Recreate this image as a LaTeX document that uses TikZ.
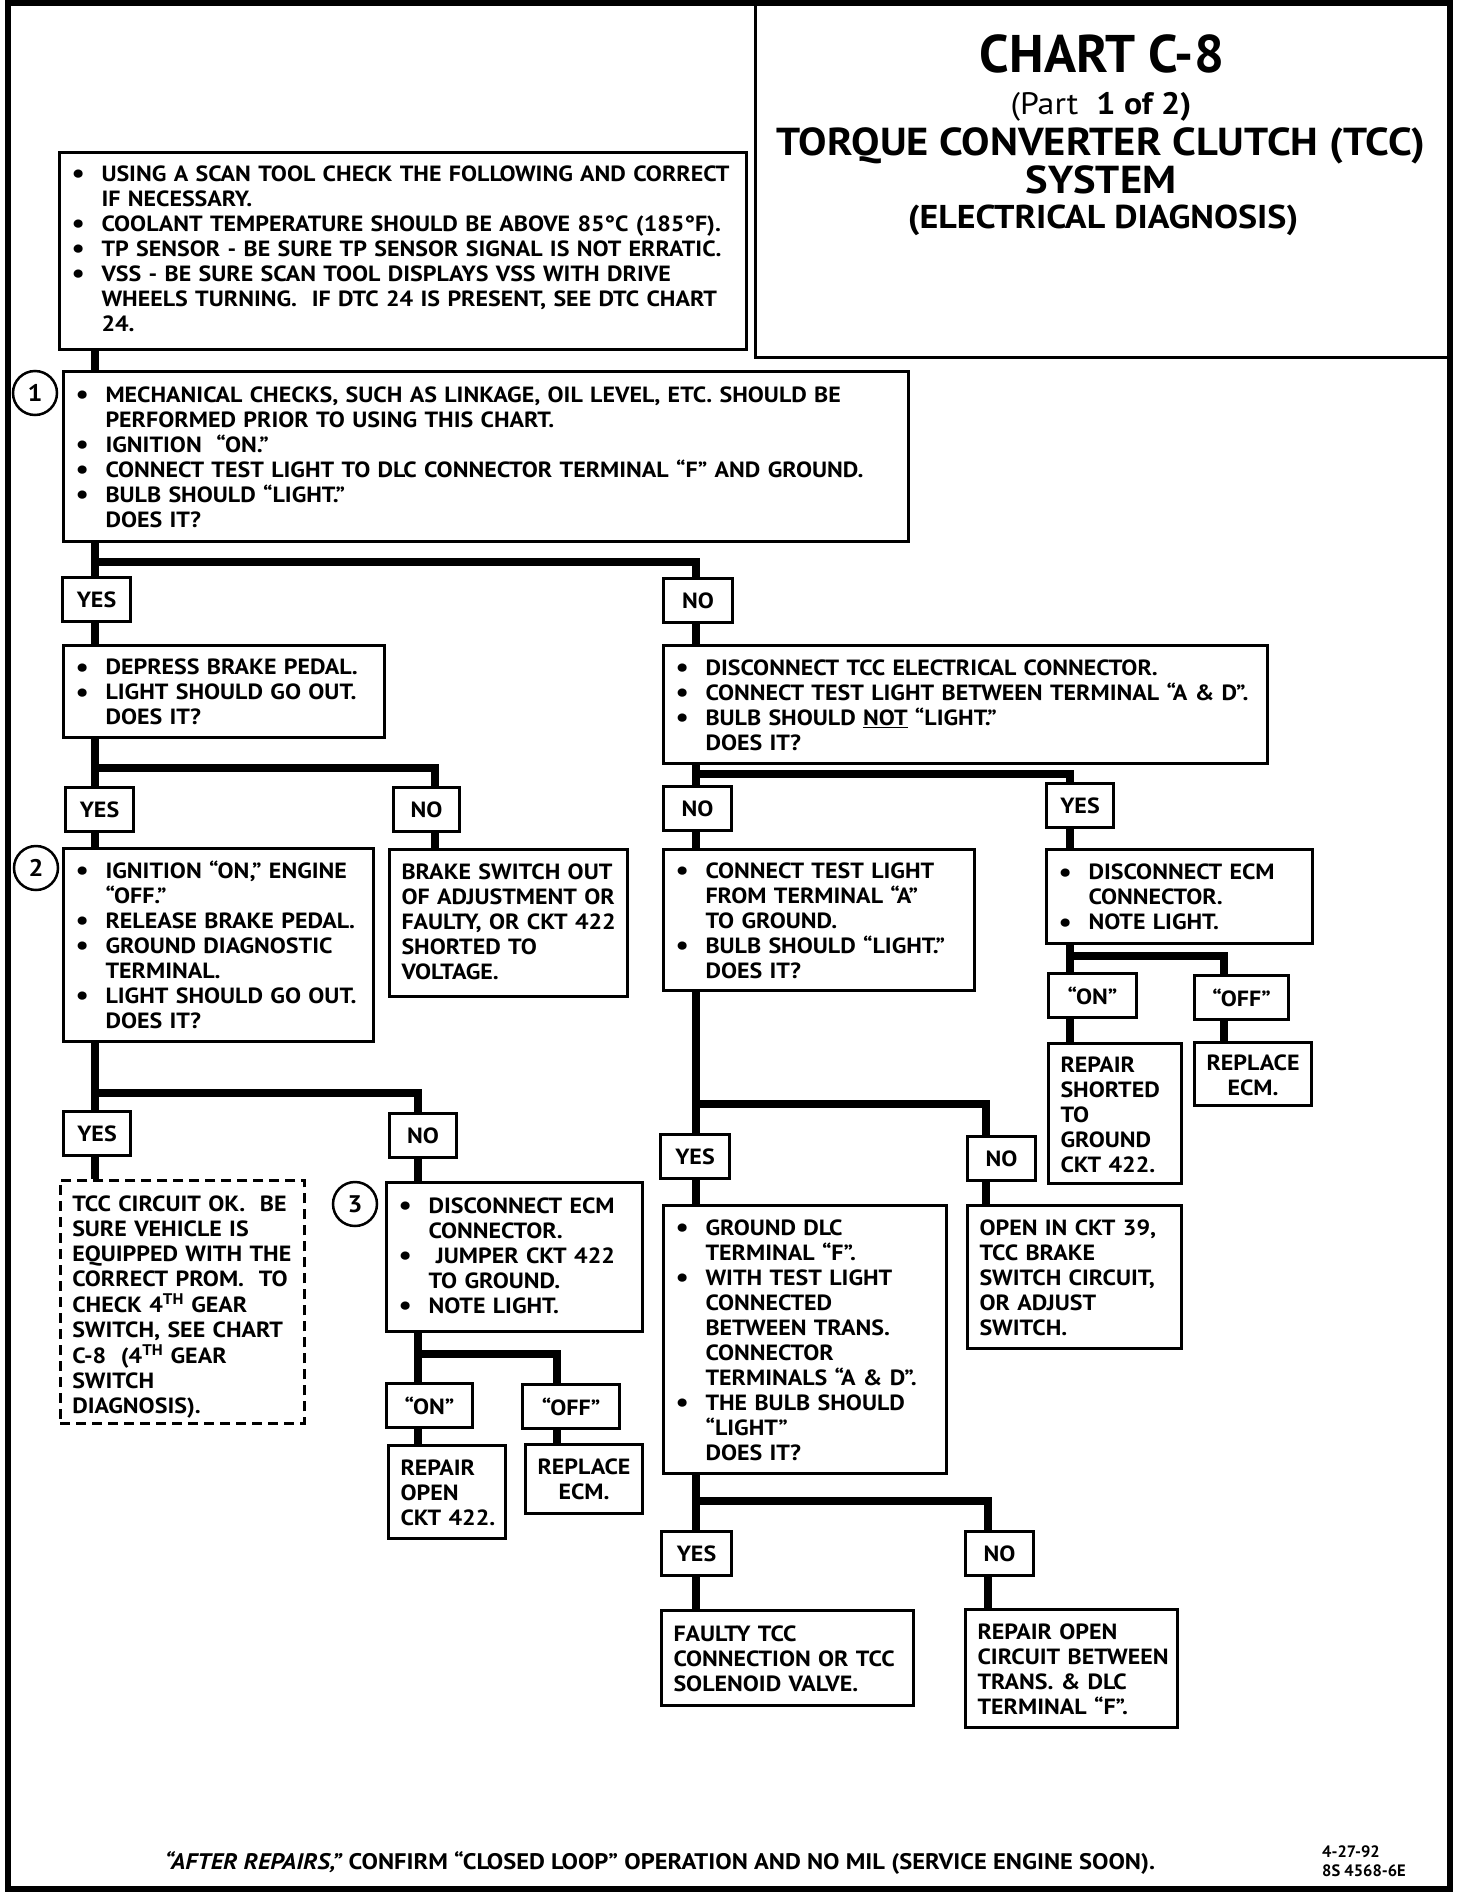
\documentclass[tikz,border=0pt]{standalone}
\usepackage{fontspec}
\setmainfont{PT Sans}[FakeStretch=1.09]
\newfontfamily\plainsans{PT Sans}
\usetikzlibrary{calc,positioning}
\newcommand\bu{\smash{\raisebox{-1.5pt}{\fontsize{27}{25}\selectfont\textbullet}}}
\newcommand\blist[2][24pt]{\begin{tabular}{@{}p{30pt}@{}l@{}}\rule{0pt}{#1}#2\end{tabular}}
\newcommand\plist[2][24pt]{\begin{tabular}{@{}l@{}}\rule{0pt}{#1}#2\end{tabular}}

\begin{document}
\begin{tikzpicture}[x=1pt,y=-1pt,
    box/.style={draw,line width=3pt,anchor=north west,inner xsep=12pt,inner ysep=0pt,
      align=left,font=\bfseries\fontsize{22}{25}\selectfont},
    lbl/.style={draw,line width=3pt,anchor=north west,minimum height=44pt,inner sep=0pt,
      font=\bfseries\fontsize{22}{22}\selectfont},
    num/.style={draw,circle,line width=2.5pt,minimum size=44pt,inner sep=0pt,
      font=\bfseries\fontsize{24}{24}\selectfont},
    wire/.style={line width=8pt}]
  \useasboundingbox (0,0) rectangle (1472,1898);
  \draw[line width=6pt] (8,3) rectangle (1450,1889);
  \draw[line width=3pt] (755,3) rectangle (1450,357);

  % title block
  \node[font=\plainsans\bfseries\fontsize{53}{60}\selectfont] (ttl) at (1102,54) {CHART C-8};
  \node[font=\bfseries\fontsize{31}{32}\selectfont,inner sep=0pt] (part) at (1101,107)
    {{\mdseries(Part}\hspace{18pt}1 of 2)};
  \node[align=center,inner sep=0pt,font=\bfseries\fontsize{39}{38}\selectfont] (tcc) at (1101,161)
    {TORQUE CONVERTER CLUTCH (TCC)\\ SYSTEM};
  \node[font=\bfseries\fontsize{33}{34}\selectfont,inner sep=0pt] (diag) at (1103,220) {(ELECTRICAL DIAGNOSIS)};

  % check boxes
  \node[box,text width=663pt,minimum height=197pt] (pre) at (58,151)
    {\blist[17.5pt]{\bu & USING A SCAN TOOL CHECK THE FOLLOWING AND CORRECT\\ & IF NECESSARY.\\
     \bu & COOLANT TEMPERATURE SHOULD BE ABOVE 85°C (185°F).\\
     \bu & TP SENSOR - BE SURE TP SENSOR SIGNAL IS NOT ERRATIC.\\
     \bu & VSS - BE SURE SCAN TOOL DISPLAYS VSS WITH DRIVE\\
         & WHEELS TURNING.\ \ IF DTC 24 IS PRESENT, SEE DTC CHART\\ & 24.}};
  \node[box,text width=821pt,minimum height=170pt] (b1) at (62,370)
    {\blist{\bu & MECHANICAL CHECKS, SUCH AS LINKAGE, OIL LEVEL, ETC. SHOULD BE\\
         & PERFORMED PRIOR TO USING THIS CHART.\\
     \bu & IGNITION\ \ “ON.”\\
     \bu & CONNECT TEST LIGHT TO DLC CONNECTOR TERMINAL “F” AND GROUND.\\
     \bu & BULB SHOULD “LIGHT.”\\ & DOES IT?}};
  \node[box,text width=297pt,minimum height=92pt] (b2a) at (62,644)
    {\blist{\bu & DEPRESS BRAKE PEDAL.\\ \bu & LIGHT SHOULD GO OUT.\\ & DOES IT?}};
  \node[box,text width=580pt,minimum height=118pt] (b2b) at (662,644)
    {\blist{\bu & DISCONNECT TCC ELECTRICAL CONNECTOR.\\
     \bu & CONNECT TEST LIGHT BETWEEN TERMINAL “A \& D”.\\
     \bu & BULB SHOULD \underline{NOT} “LIGHT.”\\ & DOES IT?}};
  \node[box,text width=286pt,minimum height=193pt] (s2) at (62,847)
    {\blist{\bu & IGNITION “ON,” ENGINE\\ & “OFF.”\\ \bu & RELEASE BRAKE PEDAL.\\
     \bu & GROUND DIAGNOSTIC\\ & TERMINAL.\\ \bu & LIGHT SHOULD GO OUT.\\ & DOES IT?}};
  \node[box,text width=214pt,minimum height=147pt] (brk) at (388,848)
    {\plist[20pt]{BRAKE SWITCH OUT\\ OF ADJUSTMENT OR\\ FAULTY, OR CKT 422\\ SHORTED TO\\ VOLTAGE.}};
  \node[box,text width=287pt,minimum height=141pt] (ctl) at (662,848)
    {\blist{\bu & CONNECT TEST LIGHT\\ & FROM TERMINAL “A”\\ & TO GROUND.\\
     \bu & BULB SHOULD “LIGHT.”\\ & DOES IT?}};
  \node[box,text width=242pt,minimum height=94pt] (decm) at (1045,848)
    {\blist{\bu & DISCONNECT ECM\\ & CONNECTOR.\\ \bu & NOTE LIGHT.}};
  \node[box,text width=109pt,minimum height=140pt] (rs) at (1047,1042)
    {\plist[26pt]{REPAIR\\ SHORTED\\ TO\\ GROUND\\ CKT 422.}};
  \node[box,text width=93pt,minimum height=63pt,align=center] (re1) at (1193,1041)
    {\begin{tabular}{@{}c@{}}\rule{0pt}{25pt}REPLACE\\ ECM.\end{tabular}};
  \node[box,dashed,dash pattern=on 10pt off 6pt,line width=2.5pt,text width=220pt,minimum height=243pt] (dash) at (59,1179)
    {\plist[29pt]{TCC CIRCUIT OK.\ \ BE\\ SURE VEHICLE IS\\ EQUIPPED WITH THE\\ CORRECT PROM.\ \ TO\\
     CHECK 4\textsuperscript{TH} GEAR\\ SWITCH, SEE CHART\\ C-8\ \ (4\textsuperscript{TH} GEAR\\ SWITCH\\ DIAGNOSIS).}};
  \node[box,text width=232pt,minimum height=149pt] (b3) at (385,1181)
    {\blist[20pt]{\bu & DISCONNECT ECM\\ & CONNECTOR.\\ \bu & \ JUMPER CKT 422\\ & TO GROUND.\\
     \bu & NOTE LIGHT.}};
  \node[box,text width=93pt,minimum height=93pt] (ro) at (387,1444)
    {\plist{REPAIR\\ OPEN\\ CKT 422.}};
  \node[box,text width=93pt,minimum height=69pt,align=center] (re2) at (524,1443)
    {\begin{tabular}{@{}c@{}}\rule{0pt}{24pt}REPLACE\\ ECM.\end{tabular}};
  \node[box,text width=259pt,minimum height=268pt] (gd) at (662,1204)
    {\blist{\bu & GROUND DLC\\ & TERMINAL “F”.\\ \bu & WITH TEST LIGHT\\ & CONNECTED\\
     & BETWEEN TRANS.\\ & CONNECTOR\\ & TERMINALS “A \& D”.\\ \bu & THE BULB SHOULD\\
     & “LIGHT”\\ & DOES IT?}};
  \node[box,text width=190pt,minimum height=143pt] (o39) at (966,1204)
    {\plist{OPEN IN CKT 39,\\ TCC BRAKE\\ SWITCH CIRCUIT,\\ OR ADJUST\\ SWITCH.}};
  \node[box,text width=228pt,minimum height=95pt] (fty) at (660,1609)
    {\plist{FAULTY TCC\\ CONNECTION OR TCC\\ SOLENOID VALVE.}};
  \node[box,text width=188pt,minimum height=118pt] (roc) at (964,1608)
    {\plist[25pt]{REPAIR OPEN\\ CIRCUIT BETWEEN\\ TRANS. \& DLC\\ TERMINAL “F”.}};

  % step numbers
  \node[num] (c1) at (35,393) {1};
  \node[num] (c2) at (36,868) {2};
  \node[num] (c3) at (355,1204) {3};

  % answer labels
  \foreach \n/\t/\x/\y/\w in {y1/YES/61/576/68, n1/NO/662/577/69, y2/YES/64/786/68,
      n2/NO/392/786/66, n3/NO/662/785/68, y3/YES/1045/782/67, on1/“ON”/1047/972/88,
      off1/“OFF”/1193/974/94, y6/YES/62/1110/67, n6/NO/388/1112/67, y4/YES/659/1133/69,
      n4/NO/966/1135/68, on2/“ON”/385/1382/86, off2/“OFF”/521/1383/97,
      y5/YES/660/1530/70, n5/NO/964/1530/68}
    \node[lbl,minimum width=\w pt] (\n) at (\x,\y) {\t};

  % trunk lines and branch points
  \coordinate (tA) at (95,0);   \coordinate (tB) at (696,0);
  \coordinate (tC) at (435,0);  \coordinate (tD) at (418,0);
  \coordinate (tE) at (557,0);  \coordinate (tF) at (1070,0);
  \coordinate (tG) at (1224,0); \coordinate (tH) at (986,0);
  \coordinate (tI) at (988,0);
  \coordinate (j1) at (95,562);   \coordinate (j2) at (95,768);
  \coordinate (j3) at (696,774);  \coordinate (j4) at (1070,956);
  \coordinate (j5) at (95,1093);  \coordinate (j6) at (418,1354);
  \coordinate (j7) at (696,1104); \coordinate (j8) at (696,1501);

  \foreach \a/\b/\t in {pre/b1/tA, b1/y1/tA, y1/b2a/tA, b2a/y2/tA, y2/s2/tA, s2/y6/tA,
      y6/dash/tA, n1/b2b/tB, b2b/n3/tB, n3/ctl/tB, ctl/y4/tB, y4/gd/tB, gd/y5/tB,
      y5/fty/tB, n2/brk/tC, n6/b3/tD, b3/on2/tD, on2/ro/tD, off2/re2/tE, y3/decm/tF,
      decm/on1/tF, on1/rs/tF, off1/re1/tG, n4/o39/tH, n5/roc/tI}
    \draw[wire] (\a.south -| \t) -- (\b.north -| \t);
  \foreach \j/\b/\t in {j1/n1/tB, j2/n2/tC, j3/y3/tF, j4/off1/tG, j5/n6/tD,
      j6/off2/tE, j7/n4/tH, j8/n5/tI}
    \draw[wire] (\j) -| (\b.north -| \t);

  % footer
  \node[font=\bfseries\fontsize{22.5}{24}\selectfont] (foot) at (660,1863)
    {\textit{“AFTER REPAIRS,”} CONFIRM “CLOSED LOOP” OPERATION AND NO MIL (SERVICE ENGINE SOON).};
  \node[anchor=north west,align=left,inner sep=0pt,font=\plainsans\bfseries\fontsize{16.5}{19}\selectfont] (date) at (1322,1845)
    {4-27-92\\ 8S 4568-6E};
\end{tikzpicture}
\end{document}
